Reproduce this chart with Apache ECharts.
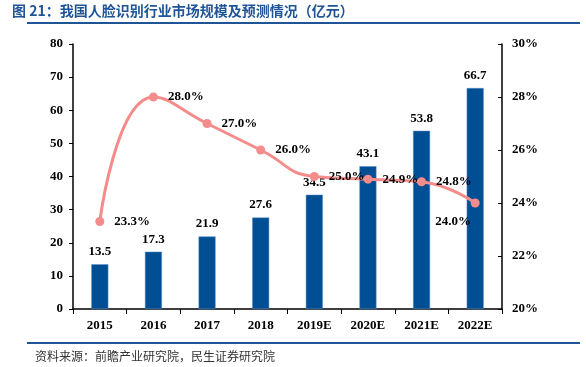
<!DOCTYPE html>
<html><head><meta charset="utf-8">
<script src="https://cdn.jsdelivr.net/npm/echarts@6/dist/echarts.min.js"></script>
<style>html,body{margin:0;padding:0;background:#fff}#c{width:586px;height:367px}</style>
</head><body><div id="c"></div>
<script>
const categories = ['2015','2016','2017','2018','2019E','2020E','2021E','2022E'];
const marketSize = [13.5,17.3,21.9,27.6,34.5,43.1,53.8,66.7];
const growthRate = [23.3,28.0,27.0,26.0,25.0,24.9,24.8,24.0];
const titleText = '图 21：我国人脸识别行业市场规模及预测情况（亿元）';
const sourceText = '资料来源：前瞻产业研究院，民生证券研究院';

const serif = '"Liberation Serif","DejaVu Serif",serif';
const chart = echarts.init(document.getElementById('c'));
const lineData = growthRate.map((v,i)=>{
  const d = {value:v};
  if (i === growthRate.length-1) d.label = {position:'bottom', offset:[-22,-2]};
  return d;
});
chart.setOption({
  animation:false,
  grid:{left:73,right:84,top:44,bottom:58},
  graphic:[
    {type:'text',left:12,top:4,style:{text:titleText,fill:'#1f5597',font:'bold 14px "Noto Sans CJK SC"'}},
    {type:'rect',shape:{x:27,y:22,width:553,height:2},style:{fill:'#1f5597'}},
    {type:'rect',shape:{x:27,y:342,width:553,height:2},style:{fill:'#1f5597'}},
    {type:'text',left:35,top:350,style:{text:sourceText,fill:'#333',font:'12px "Noto Sans CJK SC"'}}
  ],
  xAxis:{type:'category',data:categories,
    axisLine:{lineStyle:{color:'#000',width:1.5}},
    axisTick:{show:true,alignWithLabel:false,length:5,lineStyle:{color:'#000'}},
    axisLabel:{color:'#000',fontFamily:serif,fontWeight:'bold',fontSize:13,margin:10}},
  yAxis:[
    {type:'value',min:0,max:80,interval:10,
      axisLine:{show:true,lineStyle:{color:'#000',width:1.5}},
      axisTick:{show:true,length:4,lineStyle:{color:'#000'}},
      splitLine:{show:false},
      axisLabel:{color:'#000',fontFamily:serif,fontWeight:'bold',fontSize:13,margin:10}},
    {type:'value',min:20,max:30,interval:2,position:'right',
      axisLine:{show:true,lineStyle:{color:'#000',width:1.5}},
      axisTick:{show:true,inside:true,length:4,lineStyle:{color:'#000'}},
      splitLine:{show:false},
      axisLabel:{color:'#000',fontFamily:serif,fontWeight:'bold',fontSize:13,margin:10,formatter:'{value}%'}}
  ],
  series:[
    {type:'bar',data:marketSize,barWidth:17,
      itemStyle:{color:'#004e94',borderColor:'#5b8fc6',borderWidth:0.5},
      label:{show:true,position:'top',color:'#000',fontFamily:serif,fontWeight:'bold',fontSize:13,distance:6}},
    {type:'line',yAxisIndex:1,data:lineData,smooth:0.5,symbol:'circle',symbolSize:9,
      lineStyle:{color:'#f58c8c',width:3},itemStyle:{color:'#f58c8c'},
      label:{show:true,position:'right',distance:10,color:'#000',fontFamily:serif,fontWeight:'bold',fontSize:13,
        formatter:p=>p.value.toFixed(1)+'%'}}
  ]
});
</script></body></html>
